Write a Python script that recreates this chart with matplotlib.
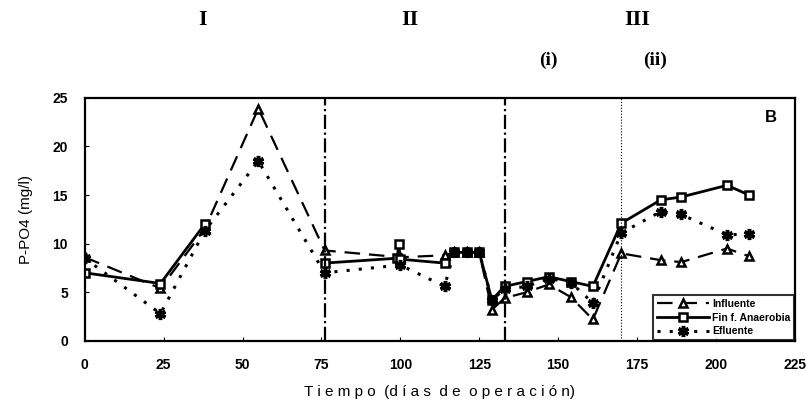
import numpy as np
import matplotlib
matplotlib.use('Agg')
import matplotlib.pyplot as plt

# dias de operacion y P-PO4 (mg/l) por serie
dias_inf = [0, 24, 38, 55, 76, 100, 114, 117, 121, 125, 129, 133, 140, 147, 154, 161, 170, 182.5, 189, 203.5, 210.5]
influente = [8.6, 5.4, 11.5, 23.9, 9.3, 8.6, 8.8, 9.1, 9.1, 9.1, 3.2, 4.4, 5.0, 5.8, 4.5, 2.2, 9.0, 8.3, 8.1, 9.5, 8.7]

dias_fin = [0, 24, 38, 55, 76, 99, 99.5, 100, 114, 117, 121, 125, 129, 133, 140, 147, 154, 161, 170, 182.5, 189, 203.5, 210.5]
fin_anaerobia = [7.0, 5.9, 12.0, np.nan, 8.0, 8.5, 10.0, 8.4, 8.0, 9.1, 9.1, 9.1, 4.2, 5.6, 6.1, 6.6, 6.1, 5.6, 12.1, 14.5, 14.8, 16.0, 15.0]

dias_ef = [0, 24, 38, 55, 76, 100, 114, 117, 121, 125, 129, 133, 140, 147, 154, 161, 170, 182.5, 189, 203.5, 210.5]
efluente = [8.5, 2.8, 11.3, 18.5, 7.0, 7.8, 5.6, 9.1, 9.1, 9.1, 4.2, 5.3, 5.6, 6.4, 6.0, 3.9, 11.1, 13.3, 13.0, 10.9, 11.0]

# cambios de etapa
etapas = [76, 133]
subetapa = 170

fig = plt.figure(figsize=(8.07, 4.01), dpi=100)
ax = fig.add_axes([0.105, 0.150, 0.880, 0.606])

ax.plot(dias_inf, influente, color='black', lw=1.6, dashes=(7, 4),
        marker='^', ms=6, mfc='white', mec='black', mew=1.8, label='Influente')
ax.plot(dias_fin, fin_anaerobia, color='black', lw=2.0, ls='-',
        marker='s', ms=5.5, mfc='white', mec='black', mew=1.8, label='Fin f. Anaerobia')
ax.plot(dias_ef, efluente, color='black', lw=2.2, ls=(0, (1, 3)),
        marker=(6, 2, 0), ms=8, mfc='black', mec='black', mew=2.5, label='Efluente')

for e in etapas:
    ax.axvline(e, color='black', lw=1.6, ls='-.')
ax.axvline(subetapa, color='black', lw=0.8, ls=':')

ax.set_xlim(0, 225)
ax.set_ylim(0, 25)
ax.set_xticks(range(0, 226, 25))
ax.set_yticks(range(0, 26, 5))
ax.tick_params(direction='in', length=3, labelsize=10, pad=12)
for lab in ax.get_xticklabels() + ax.get_yticklabels():
    lab.set_fontweight('bold')
    lab.set_family('Liberation Sans')
for s in ax.spines.values():
    s.set_linewidth(1.6)

ax.set_ylabel('P-PO4 (mg/l)', fontsize=11, family='Liberation Sans', labelpad=14)
ax.set_xlabel('T i e m p o  (d í a s  d e  o p e r a c i ó n)', fontsize=11,
              family='Liberation Sans', labelpad=10)

ax.text(0.975, 0.92, 'B', transform=ax.transAxes, fontsize=12, fontweight='bold',
        family='Liberation Sans', ha='right', va='center')

leg = ax.legend(loc='lower right', borderaxespad=0.1, frameon=True,
                fancybox=False, edgecolor='black', handlelength=5, labelspacing=0.35,
                handletextpad=0.3, borderpad=0.35,
                prop={'family': 'Liberation Sans', 'weight': 'bold', 'size': 7.5})
leg.get_frame().set_linewidth(1.5)

serif = dict(family='Liberation Serif', fontweight='bold', ha='center', va='center')
fig.text(203 / 807, 1 - 20 / 401, 'I', fontsize=16, **serif)
fig.text(410 / 807, 1 - 20 / 401, 'II', fontsize=16, **serif)
fig.text(637 / 807, 1 - 20 / 401, 'III', fontsize=16, **serif)
fig.text(548 / 807, 1 - 60 / 401, '(i)', fontsize=14, **serif)
fig.text(655 / 807, 1 - 60 / 401, '(ii)', fontsize=14, **serif)

fig.savefig('out.png', dpi=100)
